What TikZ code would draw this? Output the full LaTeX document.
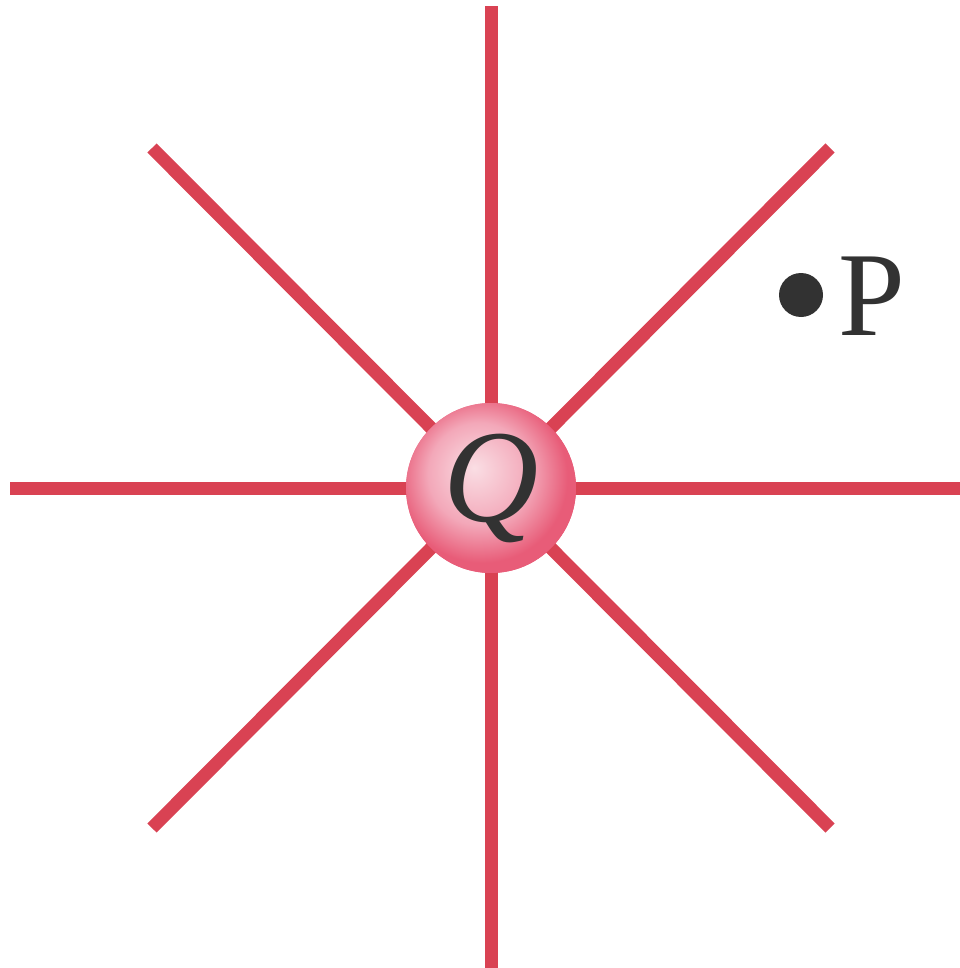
\documentclass[tikz,border=0pt]{standalone}
\usepackage{fontspec}
\setmainfont{Liberation Serif}
\usetikzlibrary{calc}

\definecolor{fieldred}{RGB}{217,66,83}
\definecolor{qlight}{RGB}{250,222,228}
\definecolor{qmid}{RGB}{243,168,185}
\definecolor{qedge}{RGB}{232,92,120}
\definecolor{inkgray}{RGB}{50,50,50}

\pgfdeclareradialshading{qball}{\pgfpoint{-5bp}{6bp}}{%
  color(0bp)=(qlight); color(15bp)=(qmid); color(25bp)=(qedge); color(50bp)=(qedge)}

\begin{document}
\begin{tikzpicture}[
  x=0.5pt, y=-0.5pt,
  fline/.style={draw=fieldred, line width=6.5pt},
  charge/.style={circle, minimum size=85pt, inner sep=0pt, shading=qball,
                 font=\fontsize{66}{66}\selectfont\itshape, text=inkgray},
  pdot/.style={circle, fill=inkgray, minimum size=22pt, inner sep=0pt},
  plab/.style={font=\fontsize{60}{60}\selectfont, text=inkgray, inner sep=0pt, anchor=west}
]
\useasboundingbox (0,0) rectangle (959,968);

% ================= field line ends =================
\coordinate (n)  at (491,6);
\coordinate (s)  at (491,975);
\coordinate (w)  at (10,488);
\coordinate (e)  at (965,488);
\coordinate (nw) at (152,148);
\coordinate (ne) at (830,148);
\coordinate (sw) at (152,828);
\coordinate (se) at (830,828);

% ================= charge =================
\node[charge] (Q) at (491,488) {};
\foreach \d in {n,s,w,e,nw,ne,sw,se}
  \draw[fline] (Q.center) -- (\d);
\node[charge] (Qtop) at (491,488) {\raisebox{-2pt}{Q}};

% ================= point P =================
\node[pdot] (dot) at (801,295) {};
\node[plab] (P) at (838,296) {P};

\end{tikzpicture}
\end{document}
